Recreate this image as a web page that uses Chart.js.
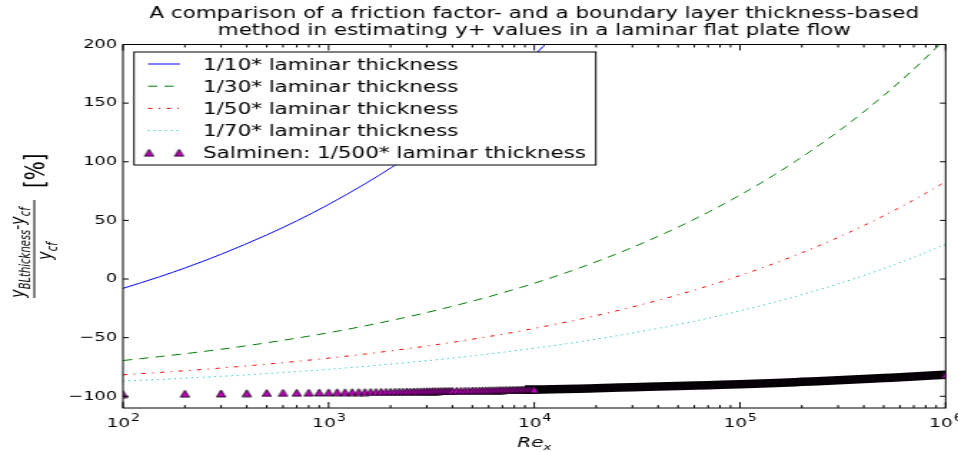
<!DOCTYPE html>
<html>
<head>
<meta charset="utf-8">
<script src="https://cdn.jsdelivr.net/npm/chart.js@4/dist/chart.umd.min.js"></script>
<style>
  html, body { margin: 0; padding: 0; background: #fff; }
  #chart { display: block; width: 958px !important; height: 452px !important; }
</style>
</head>
<body>
<canvas id="chart" width="670" height="452" style="width:958px;height:452px"></canvas>
<script>
// Re_x sample positions for the four analytic curves
const reX = [100, 150, 200, 300, 500, 700, 1000, 1500, 2000, 3000, 5000, 7000, 10000,
  15000, 20000, 30000, 50000, 70000, 100000, 150000, 200000, 300000, 500000, 700000, 1000000];

// relative difference in %
const tenth = [-8.0, 1.8, 9.4, 21.1, 37.6, 49.6, 63.6, 81.1, 94.6, 115.3, 144.6, 166.1, 190.9, 222.0];
const thirtieth = [-69.5, -66.2, -63.7, -59.9, -54.4, -50.4, -45.8, -40.0, -35.5, -28.6, -18.9, -11.8, -3.6,
  6.7, 14.7, 26.9, 44.2, 56.9, 71.5, 89.8, 104.0, 125.7, 156.5, 179.0, 205.0];
const fiftieth = [-81.7, -79.7, -78.2, -75.9, -72.6, -70.2, -67.5, -64.0, -61.3, -57.2, -51.3, -47.1, -42.1,
  -36.0, -31.2, -23.8, -13.5, -5.9, 2.9, 13.9, 22.4, 35.4, 53.9, 67.4, 83.0];
const seventieth = [-87.1, -85.7, -84.6, -83.0, -80.6, -78.9, -77.0, -74.5, -72.6, -69.7, -65.6, -62.5, -59.0,
  -54.7, -51.3, -46.1, -38.8, -33.4, -27.2, -19.4, -13.4, -4.2, 8.9, 18.5, 29.5];

// Salminen markers (1/500 laminar thickness), dense where they merge into a band
const salX = [100, 200, 300, 400, 500, 600, 700, 800, 900, 1000,
  1100, 1200, 1300, 1400, 1500, 1600, 1700, 1800, 1900, 2000,
  2100, 2200, 2300, 2400, 2500, 2600, 2700, 2800, 2900, 3000,
  3100, 3200, 3300, 3400, 3500, 3600, 3700, 3800, 3900, 4000,
  4200, 4400, 4600, 4800, 5000, 5200, 5400, 5600, 5800, 6000,
  6200, 6400, 6600, 6800, 7000, 7200, 7400, 7600, 7800, 8000,
  8200, 8400, 8600, 8800, 9000, 9200, 9400, 9600, 9800, 10000,
  20000, 30000, 50000, 70000, 100000, 150000, 200000, 300000, 500000, 700000, 1000000];
const salY = [-98.2, -97.8, -97.6, -97.4, -97.2, -97.1, -97.0, -96.9, -96.8, -96.7,
  -96.6, -96.6, -96.5, -96.4, -96.4, -96.3, -96.3, -96.2, -96.2, -96.1,
  -96.1, -96.0, -96.0, -95.9, -95.9, -95.9, -95.8, -95.8, -95.7, -95.7,
  -95.7, -95.6, -95.6, -95.6, -95.5, -95.5, -95.5, -95.4, -95.4, -95.4,
  -95.3, -95.3, -95.2, -95.2, -95.1, -95.1, -95.0, -95.0, -94.9, -94.9,
  -94.8, -94.8, -94.8, -94.7, -94.7, -94.6, -94.6, -94.6, -94.5, -94.5,
  -94.5, -94.4, -94.4, -94.4, -94.3, -94.3, -94.3, -94.2, -94.2, -94.2,
  -93.1, -92.3, -91.3, -90.5, -89.7, -88.6, -87.7, -86.4, -84.5, -83.2, -81.6];

const seriesLabels = ["1/10* laminar thickness", "1/30* laminar thickness", "1/50* laminar thickness",
  "1/70* laminar thickness", "Salminen: 1/500* laminar thickness"];
const titleLines = ["A comparison of a friction factor- and a boundary layer thickness-based",
  "method in estimating y+ values in a laminar flat plate flow"];
const yTicks = [-100, -50, 0, 50, 100, 150, 200];

const FONT = '"DejaVu Sans", sans-serif';
Chart.defaults.font.family = FONT;
Chart.defaults.color = '#000';

function pts(xs, ys) {
  return ys.map((v, i) => ({ x: xs[i], y: v }));
}

// purple triangle marker, matplotlib '^'
function makeMarker() {
  const c = document.createElement('canvas');
  c.width = 9; c.height = 9;
  const g = c.getContext('2d');
  g.beginPath();
  g.moveTo(4.5, 1);
  g.lineTo(7.7, 8);
  g.lineTo(1.3, 8);
  g.closePath();
  g.fillStyle = '#bf00bf';
  g.fill();
  g.strokeStyle = '#000';
  g.lineWidth = 0.8;
  g.stroke();
  return c;
}
const marker = makeMarker();

const lineStyles = [
  { color: '#0000ff', dash: [] },
  { color: '#008000', dash: [6.5, 5] },
  { color: '#ff0000', dash: [3, 4.5, 1, 4.5] },
  { color: '#00bfbf', dash: [1, 3] }
];

function curve(i, ys) {
  return {
    label: seriesLabels[i],
    data: pts(reX, ys),
    borderColor: lineStyles[i].color,
    borderDash: lineStyles[i].dash,
    borderWidth: 1,
    pointRadius: 0,
    fill: false,
    cubicInterpolationMode: 'monotone',
    order: 3
  };
}

// past 1e4 the markers overlap so much that they read as one dark band
const bandStart = salX.indexOf(9000);

const decorations = {
  id: 'decorations',
  afterDatasetsDraw(chart) {
    const { ctx, chartArea: a, scales: { x, y } } = chart;
    ctx.save();
    // frame
    ctx.strokeStyle = '#000';
    ctx.lineWidth = 1;
    ctx.strokeRect(a.left, a.top, a.right - a.left, a.bottom - a.top);
    // inward ticks
    ctx.beginPath();
    for (let n = 2; n <= 6; n++) {
      const px = x.getPixelForValue(Math.pow(10, n));
      ctx.moveTo(px, a.bottom); ctx.lineTo(px, a.bottom - 6);
      ctx.moveTo(px, a.top); ctx.lineTo(px, a.top + 6);
      if (n < 6) {
        for (let k = 2; k < 10; k++) {
          const pm = x.getPixelForValue(k * Math.pow(10, n));
          ctx.moveTo(pm, a.bottom); ctx.lineTo(pm, a.bottom - 3);
          ctx.moveTo(pm, a.top); ctx.lineTo(pm, a.top + 3);
        }
      }
    }
    yTicks.forEach(v => {
      const py = y.getPixelForValue(v);
      ctx.moveTo(a.left, py); ctx.lineTo(a.left + 4, py);
      ctx.moveTo(a.right, py); ctx.lineTo(a.right - 4, py);
    });
    ctx.stroke();

    // legend
    const lx = a.left + 7.7, ly = a.top + 7.5, lw = 323, lh = 113;
    ctx.fillStyle = '#fff';
    ctx.fillRect(lx, ly, lw, lh);
    ctx.strokeRect(lx, ly, lw, lh);
    ctx.font = '15px ' + FONT;
    ctx.textBaseline = 'alphabetic';
    seriesLabels.forEach((t, i) => {
      const ry = ly + 12 + i * 22.2;
      if (i < 4) {
        ctx.beginPath();
        ctx.strokeStyle = lineStyles[i].color;
        ctx.setLineDash(lineStyles[i].dash);
        ctx.moveTo(lx + 9.8, ry);
        ctx.lineTo(lx + 32.2, ry);
        ctx.stroke();
        ctx.setLineDash([]);
      } else {
        ctx.drawImage(marker, lx + 10.5 - 4.5, ry - 4.5);
        ctx.drawImage(marker, lx + 31.5 - 4.5, ry - 4.5);
      }
      ctx.fillStyle = '#000';
      ctx.fillText(t, lx + 48.3, ry + 5.5);
    });
    ctx.restore();
  },
  afterDraw(chart) {
    const { ctx, chartArea: a, scales: { x } } = chart;
    ctx.save();
    ctx.fillStyle = '#000';
    ctx.textBaseline = 'alphabetic';
    // x tick labels 10^n
    for (let n = 2; n <= 6; n++) {
      const px = x.getPixelForValue(Math.pow(10, n));
      ctx.font = '13px ' + FONT;
      const w1 = ctx.measureText('10').width;
      ctx.font = '10px ' + FONT;
      const w2 = ctx.measureText(String(n)).width;
      const s = px - (w1 + w2) / 2;
      ctx.font = '13px ' + FONT;
      ctx.fillText('10', s, a.bottom + 19.3);
      ctx.font = '10px ' + FONT;
      ctx.fillText(String(n), s + w1 + 0.5, a.bottom + 12.8);
    }
    // x axis label Re_x
    ctx.font = 'italic 14px ' + FONT;
    const wr = ctx.measureText('Re').width;
    ctx.font = 'italic 9.5px ' + FONT;
    const wx = ctx.measureText('x').width;
    const cx = (a.left + a.right) / 2;
    ctx.font = 'italic 14px ' + FONT;
    ctx.fillText('Re', cx - (wr + wx) / 2, 447);
    ctx.font = 'italic 9.5px ' + FONT;
    ctx.fillText('x', cx - (wr + wx) / 2 + wr, 450);

    // y axis label, rotated fraction
    ctx.translate(0, 250);
    ctx.rotate(-Math.PI / 2);
    const runs = (parts, uc, v) => {
      let total = 0;
      parts.forEach(p => { ctx.font = p[1]; total += ctx.measureText(p[0]).width; });
      let u = uc - total / 2;
      parts.forEach(p => {
        ctx.font = p[1];
        ctx.fillText(p[0], u, v + p[2]);
        u += ctx.measureText(p[0]).width;
      });
    };
    const big = 'italic 14px ' + FONT, sub = 'italic 10px ' + FONT;
    runs([['y', big, 0], ['BLthickness', sub, 4.5], ['-', big, 0], ['y', big, 0], ['cf', sub, 4.5]], -2.5, 16.5);
    runs([['y', big, 0], ['cf', sub, 4.5]], -1, 35.7);
    runs([['[%]', '20px ' + FONT, 0]], 79.3, 31.1);
    ctx.beginPath();
    ctx.strokeStyle = '#000';
    ctx.lineWidth = 1;
    ctx.moveTo(-48, 24);
    ctx.lineTo(50, 24);
    ctx.stroke();
    ctx.restore();
  }
};

new Chart(document.getElementById('chart'), {
  type: 'line',
  data: {
    datasets: [
      {
        label: seriesLabels[4],
        data: pts(salX, salY),
        showLine: false,
        pointStyle: marker,
        pointRadius: c => (salX[c.dataIndex] > 10000 && salX[c.dataIndex] < 1000000) ? 0 : 4,
        clip: 0,
        order: 0
      },
      {
        label: 'band',
        data: pts(salX.slice(bandStart), salY.slice(bandStart)),
        borderWidth: 8.5,
        pointRadius: 0,
        cubicInterpolationMode: 'monotone',
        borderCapStyle: 'butt',
        borderColor: '#050005',
        clip: 0,
        order: 1
      },
      curve(0, tenth),
      curve(1, thirtieth),
      curve(2, fiftieth),
      curve(3, seventieth)
    ]
  },
  options: {
    responsive: false,
    devicePixelRatio: 1,
    animation: false,
    events: [],
    layout: { padding: { left: 0, right: 8.7, top: 0, bottom: 0 } },
    plugins: {
      legend: { display: false },
      tooltip: { enabled: false },
      title: {
        display: true,
        fullSize: false,
        text: titleLines,
        color: '#000',
        font: { size: 15, weight: 'normal', lineHeight: 1.15 },
        padding: { top: 5.2, bottom: 4.8 }
      }
    },
    scales: {
      x: {
        type: 'logarithmic',
        min: 100,
        max: 1000000,
        grid: { display: false, drawTicks: false },
        border: { display: false },
        ticks: { display: false },
        afterFit: s => { s.height = 44; s.paddingLeft = 0; s.paddingRight = 0; }
      },
      y: {
        min: -110,
        max: 200,
        grid: { display: false, drawTicks: false },
        border: { display: false },
        ticks: {
          stepSize: 50,
          includeBounds: false,
          padding: 4,
          font: { size: 12.5 },
          color: '#000',
          callback: v => String(v).replace('-', '\u2212')
        },
        afterFit: s => { s.width = 86; s.paddingTop = 0; s.paddingBottom = 0; }
      }
    }
  },
  plugins: [decorations]
});
</script>
</body>
</html>
